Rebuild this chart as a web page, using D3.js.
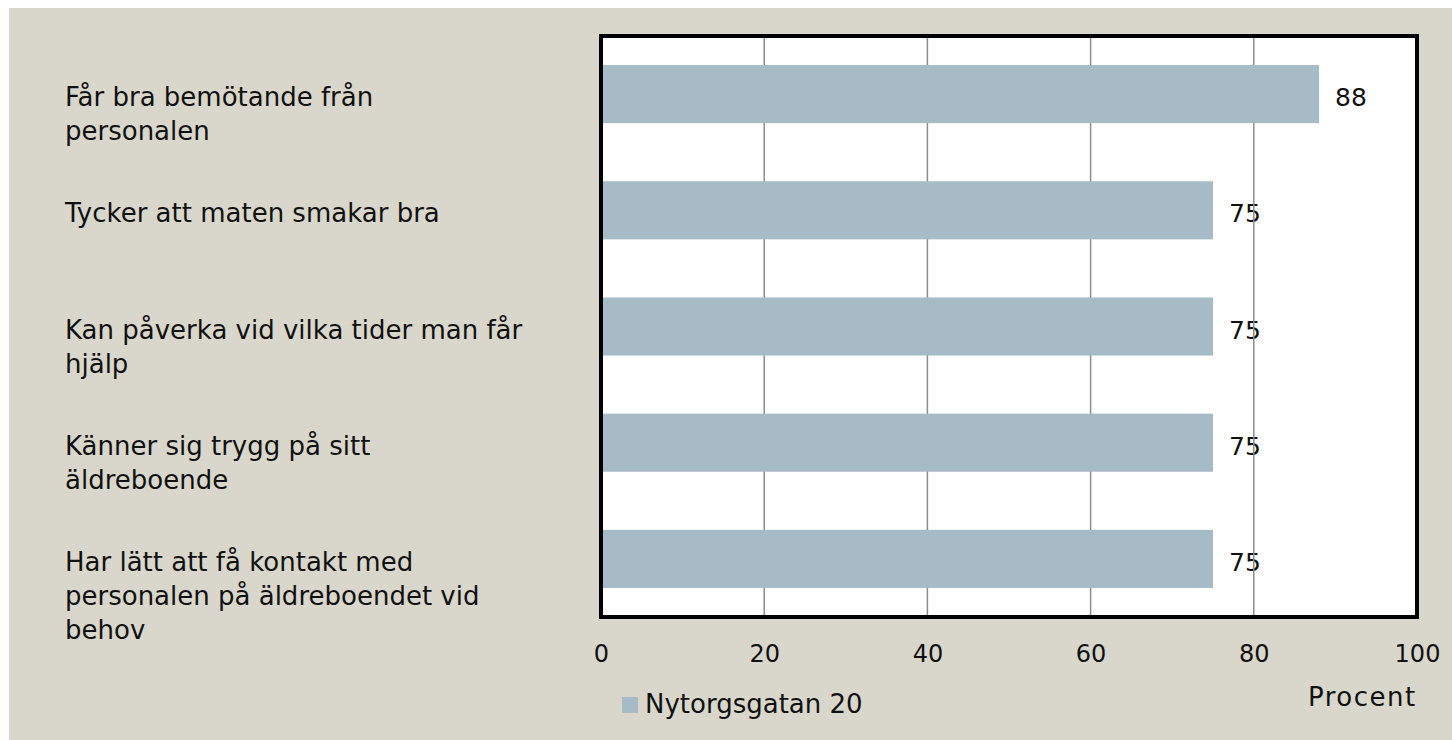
<!DOCTYPE html>
<html>
<head>
<meta charset="utf-8">
<script src="https://cdn.jsdelivr.net/npm/d3@7"></script>
<style>
  html, body { margin: 0; padding: 0; background: #ffffff; }
  svg { display: block; }
  text { font-family: "DejaVu Sans", sans-serif; fill: #111; }
</style>
</head>
<body>
<svg id="chart" width="1452" height="740"></svg>
<script>
// data
var categories = [
  ["Får bra bemötande från", "personalen"],
  ["Tycker att maten smakar bra"],
  ["Kan påverka vid vilka tider man får", "hjälp"],
  ["Känner sig trygg på sitt", "äldreboende"],
  ["Har lätt att få kontakt med", "personalen på äldreboendet vid", "behov"]
];
var values = [88, 75, 75, 75, 75];
var xTicks = [0, 20, 40, 60, 80, 100];
var seriesName = "Nytorgsgatan 20";
var axisTitle = "Procent";

var svg = d3.select("#chart");
var labelSize = 26;
var tickSize = 24;
var valueSize = 25;

// bakgrund
svg.append("rect")
  .attr("x", 9).attr("y", 8)
  .attr("width", 1452 - 9).attr("height", 740 - 8)
  .attr("fill", "#d9d7cb");

var plot = { left: 601, right: 1417, top: 36, bottom: 617 };

// skalor
var xScale = d3.scaleLinear().domain([0, 100]).range([plot.left, plot.right]);
var yScale = d3.scaleBand()
  .domain(d3.range(categories.length))
  .range([plot.top, plot.bottom])
  .paddingInner(0.5)
  .paddingOuter(0.25);

// plotyta
svg.append("rect")
  .attr("x", plot.left).attr("y", plot.top)
  .attr("width", plot.right - plot.left).attr("height", plot.bottom - plot.top)
  .attr("fill", "#ffffff");

// datavärden (under rutnätet)
svg.append("g")
  .selectAll("text")
  .data(values)
  .join("text")
  .attr("x", d => xScale(d) + 16)
  .attr("y", (d, i) => yScale(i) + yScale.bandwidth() / 2 + 12)
  .attr("font-size", valueSize)
  .text(d => d);

// rutnät
svg.append("g")
  .selectAll("line")
  .data(xTicks.filter(t => t > 0 && t < 100))
  .join("line")
  .attr("x1", d => xScale(d)).attr("x2", d => xScale(d))
  .attr("y1", plot.top).attr("y2", plot.bottom)
  .attr("stroke", "#8c8c8c")
  .attr("stroke-width", 1.5);

// staplar
svg.append("g")
  .selectAll("rect")
  .data(values)
  .join("rect")
  .attr("x", xScale(0))
  .attr("y", (d, i) => yScale(i))
  .attr("width", d => xScale(d) - xScale(0))
  .attr("height", yScale.bandwidth())
  .attr("fill", "#a7bbc7");

// ram
svg.append("rect")
  .attr("x", plot.left).attr("y", plot.top)
  .attr("width", plot.right - plot.left).attr("height", plot.bottom - plot.top)
  .attr("fill", "none")
  .attr("stroke", "#000")
  .attr("stroke-width", 4);

// x-axel
var xAxis = svg.append("g")
  .attr("transform", `translate(0, ${plot.bottom})`)
  .call(d3.axisBottom(xScale).tickValues(xTicks).tickSize(0).tickPadding(45));
xAxis.select(".domain").remove();
xAxis.attr("font-family", null).attr("font-size", null);
xAxis.selectAll("text")
  .attr("font-size", tickSize)
  .attr("fill", "#111")
  .attr("dy", null);

// kategorietiketter
var labels = svg.append("g");
categories.forEach(function(lines, i) {
  var t = labels.append("text")
    .attr("x", 65)
    .attr("y", yScale(i) + yScale.bandwidth() / 2 + 12)
    .attr("font-size", labelSize);
  lines.forEach(function(line, j) {
    t.append("tspan")
      .attr("x", 65)
      .attr("dy", j === 0 ? 0 : 34)
      .text(line);
  });
});

// förklaring
svg.append("rect")
  .attr("x", 622).attr("y", 697)
  .attr("width", 16).attr("height", 16)
  .attr("fill", "#a7bbc7");
svg.append("text")
  .attr("x", 645).attr("y", 713)
  .attr("font-size", labelSize)
  .text(seriesName);

// axeltitel
svg.append("text")
  .attr("x", 1308).attr("y", 706)
  .attr("font-size", labelSize)
  .attr("letter-spacing", 1.5)
  .text(axisTitle);
</script>
</body>
</html>
